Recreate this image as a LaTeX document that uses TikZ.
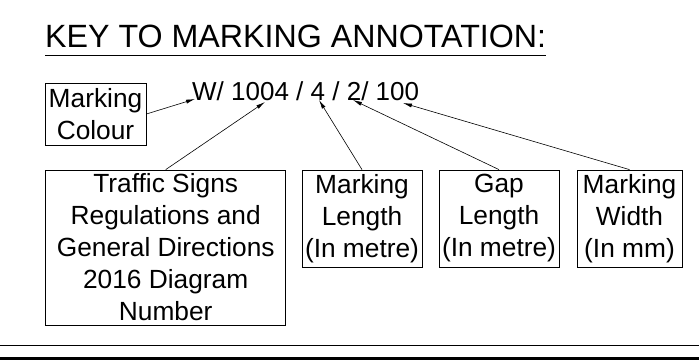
\documentclass[tikz,border=0pt]{standalone}
\usepackage{fontspec}
\setmainfont{Liberation Sans}
\usetikzlibrary{arrows.meta}

\begin{document}
\begin{tikzpicture}[x=1pt,y=-1pt,
    keybox/.style={draw,line width=.8pt,align=center,inner sep=0pt,
      font=\fontsize{26.3}{32}\selectfont},
    lead/.style={line width=.6pt,-{Latex[length=9pt,width=4pt]}}]
\useasboundingbox (0,0) rectangle (699,360);
% heading
\node[anchor=base west,inner sep=0pt,font=\fontsize{32.2}{36}\selectfont]
  (title) at (45,47.5) {KEY TO MARKING ANNOTATION:};
\draw[line width=.8pt] ([yshift=-7.5pt]title.base west) -- ([yshift=-7.5pt]title.base east);
% annotation
\node[anchor=base west,inner sep=0pt,font=\fontsize{26}{32}\selectfont]
  (code) at (192,100) {W/ 1004 / 4 / 2/ 100};
\coordinate (tipw) at (195,99);
\coordinate (tipdiag) at (265,102);
\coordinate (tiplen) at (319,100);
\coordinate (tipgap) at (353,100);
\coordinate (tipwid) at (403,103);
% boxes
\node[keybox,minimum width=101pt,minimum height=62pt] (colour) at (95.5,114) {Marking\\Colour};
\node[keybox,minimum width=240pt,minimum height=155pt] (tsrgd) at (165.7,247.5)
  {Traffic Signs\\Regulations and\\General Directions\\2016 Diagram\\Number};
\node[keybox,minimum width=120pt,minimum height=97pt] (mlen) at (362,218.5) {Marking\\Length\\(In metre)};
\node[keybox,minimum width=120pt,minimum height=97pt] (glen) at (499,218.5) {Gap\\Length\\(In metre)};
\node[keybox,minimum width=105pt,minimum height=97pt] (mwid) at (629.5,218.5) {Marking\\Width\\(In mm)};
% leaders
\draw[lead] (colour.east) -- (tipw);
\draw[lead] (tsrgd.north) -- (tipdiag);
\draw[lead] (mlen.north) -- (tiplen);
\draw[lead] (glen.north) -- (tipgap);
\draw[lead] (mwid.north) -- (tipwid);
% frame lines
\draw[line width=.9pt] (0,345) -- (699,345);
\draw[line width=3pt] (0,358.5) -- (699,358.5);
\end{tikzpicture}
\end{document}
